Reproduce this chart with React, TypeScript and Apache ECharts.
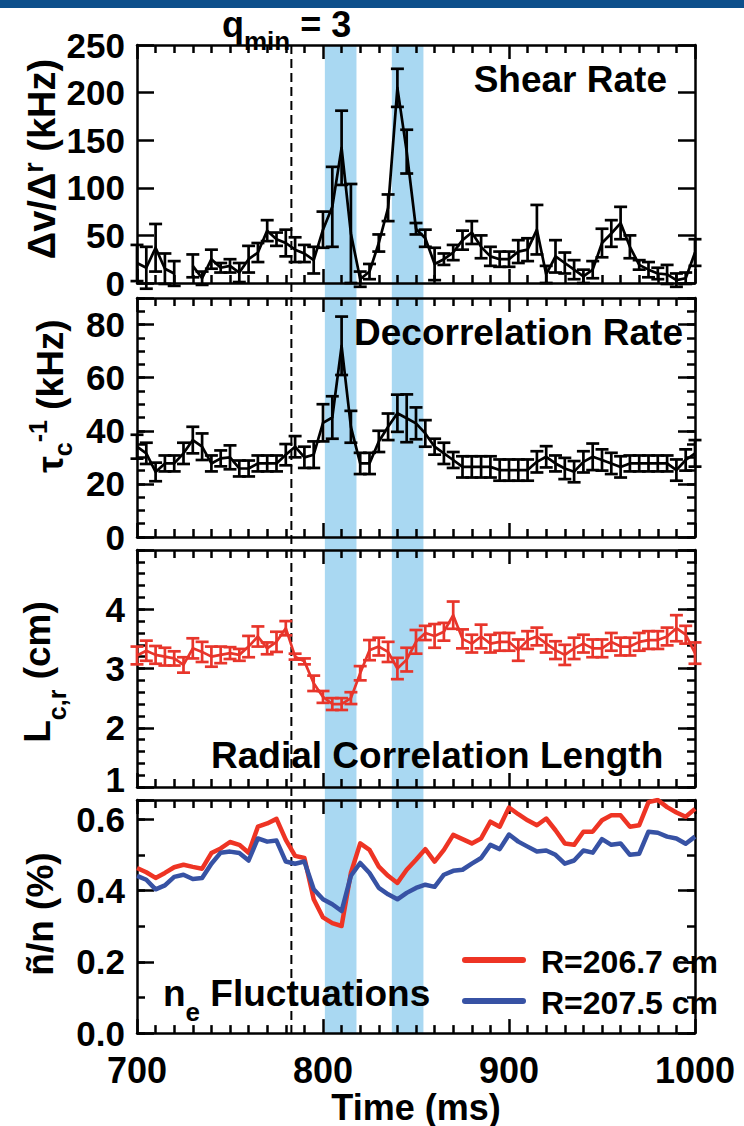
import React, { useEffect, useRef } from "react";
import * as echarts from "echarts";

const FONT = "'Liberation Sans', Arial, Helvetica, sans-serif";

// Sample times (ms)
const TIME_MS = [
  700, 705, 710, 715, 720, 725, 730, 735, 740, 745,
  750, 755, 760, 765, 770, 775, 780, 785, 790, 795,
  800, 805, 810, 815, 820, 825, 830, 835, 840, 845,
  850, 855, 860, 865, 870, 875, 880, 885, 890, 895,
  900, 905, 910, 915, 920, 925, 930, 935, 940, 945,
  950, 955, 960, 965, 970, 975, 980, 985, 990, 995,
  1000,
];

// Shear rate Δv/Δr (kHz) and its uncertainty
const SHEAR_RATE = [
  21, 16, 37, 15, 10, null, 18, 5, 25, 16,
  18, 11, 25, 32, 55, 46, 42, 35, 31, 24,
  56, 80, 142, 52, 4, 12, 42, 79, 205, 138,
  57, 47, 20, 25, 32, 45, 53, 38, 28, 25,
  25, 33, 35, 56, 9, 28, 21, 14, 7, 14,
  42, 52, 63, 38, 19, 14, 10, 9, 3, 5,
  32,
];
const SHEAR_ERR = [
  19, 22, 25, 16, 13, null, 12, 7, 10, 5,
  7, 10, 14, 10, 11, 7, 14, 13, 9, 14,
  19, 42, 39, 52, 8, 8, 9, 14, 20, 23,
  6, 9, 17, 6, 8, 10, 12, 12, 10, 8,
  8, 12, 12, 26, 9, 17, 11, 10, 7, 9,
  15, 14, 17, 12, 5, 8, 6, 10, 7, 6,
  14,
];

// Decorrelation rate τc^-1 (kHz)
const DECOR_RATE = [
  34, 31.5, 24.5, 27.7, 27.7, 31.5, 36.5, 34, 27.7, 29.6,
  30, 25.8, 25.8, 27.7, 27.7, 27.7, 31, 34, 30, 31,
  43, 45, 72, 41.5, 27.7, 27.7, 36, 41.5, 46.6, 44.7,
  42.8, 39, 34, 31.5, 29, 26.4, 26.4, 26.4, 26.4, 25.2,
  25.2, 25.2, 25.2, 28.3, 30.2, 27.7, 25.8, 24.6, 28.3, 30.2,
  29, 27.7, 26.4, 27.7, 27.7, 27.7, 27.7, 27.7, 25.2, 29,
  31.5,
];
const DECOR_ERR = [
  4.5, 4, 3.5, 3, 3, 4, 5, 5, 3, 3,
  4.5, 3, 3, 3, 3, 3, 4, 4, 4, 5,
  7, 8, 11, 6, 4, 4, 4, 5, 7, 9,
  6, 5, 3, 4, 3, 4, 4, 4, 4, 4,
  4, 4, 4, 4, 4, 3, 4, 4, 4, 5,
  4, 4, 4, 3, 3, 3, 3, 3, 4, 4,
  5,
];

// Radial correlation length Lc,r (cm)
const CORR_LEN = [
  3.22, 3.3, 3.23, 3.2, 3.17, 3.06, 3.34, 3.28, 3.2, 3.23,
  3.26, 3.23, 3.37, 3.54, 3.34, 3.45, 3.68, 3.2, 3.12, 2.75,
  2.52, 2.4, 2.4, 2.5, 2.92, 3.31, 3.37, 3.28, 3.0, 3.15,
  3.45, 3.6, 3.55, 3.62, 3.9, 3.5, 3.42, 3.54, 3.42, 3.45,
  3.45, 3.31, 3.48, 3.54, 3.42, 3.31, 3.23, 3.34, 3.42, 3.34,
  3.34, 3.45, 3.37, 3.37, 3.45, 3.48, 3.48, 3.54, 3.68, 3.57,
  3.26,
];
const CORR_LEN_ERR = [
  0.15, 0.17, 0.15, 0.15, 0.12, 0.13, 0.17, 0.17, 0.17, 0.14,
  0.1, 0.1, 0.18, 0.17, 0.1, 0.17, 0.12, 0.05, 0.05, 0.13,
  0.1, 0.1, 0.1, 0.1, 0.12, 0.17, 0.15, 0.17, 0.18, 0.2,
  0.2, 0.12, 0.2, 0.15, 0.23, 0.16, 0.15, 0.2, 0.15, 0.15,
  0.15, 0.18, 0.15, 0.15, 0.15, 0.15, 0.17, 0.18, 0.15, 0.15,
  0.15, 0.15, 0.15, 0.15, 0.15, 0.15, 0.15, 0.15, 0.22, 0.15,
  0.18,
];

// Density fluctuation level ñ/n (%) at two radii
const NE_R2067 = [
  0.464, 0.452, 0.436, 0.45, 0.466, 0.473, 0.467, 0.462, 0.506, 0.519,
  0.537, 0.529, 0.507, 0.58, 0.589, 0.602, 0.543, 0.498, 0.492, 0.376,
  0.325, 0.309, 0.301, 0.45, 0.533, 0.515, 0.468, 0.442, 0.422, 0.459,
  0.487, 0.517, 0.482, 0.515, 0.557, 0.545, 0.533, 0.547, 0.594, 0.58,
  0.634, 0.615, 0.598, 0.584, 0.603, 0.57, 0.533, 0.529, 0.566, 0.566,
  0.598, 0.612, 0.612, 0.58, 0.584, 0.649, 0.655, 0.635, 0.62, 0.608,
  0.63,
];
const NE_R2075 = [
  0.442, 0.431, 0.404, 0.415, 0.439, 0.445, 0.433, 0.436, 0.476, 0.507,
  0.51, 0.506, 0.485, 0.547, 0.538, 0.541, 0.482, 0.476, 0.482, 0.404,
  0.376, 0.362, 0.343, 0.442, 0.478, 0.45, 0.408, 0.39, 0.376, 0.394,
  0.408, 0.417, 0.411, 0.445, 0.456, 0.459, 0.476, 0.492, 0.529, 0.517,
  0.558, 0.538, 0.524, 0.51, 0.513, 0.501, 0.476, 0.485, 0.513, 0.507,
  0.545, 0.529, 0.533, 0.501, 0.504, 0.566, 0.563, 0.552, 0.547, 0.532,
  0.552,
];

// Highlighted time windows (ms) and the q_min = 3 crossing time
const BANDS = [
  [801, 818],
  [837, 854],
];
const QMIN_TIME = 783;

const X_TICKS = { min: 700, max: 1000, major: 100 };

const BLACK = "#000000";
const LC_RED = "#e8352b";
const NE_RED = "#ee3424";
const NE_BLUE = "#3752a4";
const BAND_BLUE = "#a9d8f2";
const HEADER_BLUE = "#0d4f8b";

// Panel frames and their y scales
const PANELS = [
  { top: 45, height: 238, min: 0, max: 250, major: 50, minor: 0, labelMax: 250, digits: 0, raiseMin: false },
  { top: 298, height: 239, min: 0, max: 90, major: 20, minor: 5, labelMax: 80, digits: 0, raiseMin: false },
  { top: 550, height: 237, min: 1, max: 5, major: 1, minor: 0.2, labelMax: 4, digits: 0, raiseMin: true },
  { top: 800, height: 235, min: 0, max: 0.655, major: 0.2, minor: 0.1, labelMax: 0.6, digits: 1, raiseMin: false },
];
const GRID_LEFT = 137;
const GRID_WIDTH = 558;

const AXIS_LINE = { show: true, onZero: false, lineStyle: { color: BLACK, width: 2.5 } };
const TICK_STYLE = { color: BLACK, width: 2.5 };

function bold(size: number, extra: any = {}) {
  return { fontSize: size, fontWeight: "bold", fontFamily: FONT, color: BLACK, ...extra };
}

function lineData(values: (number | null)[]) {
  return TIME_MS.map((t, i) => [t, values[i] == null ? "-" : values[i]]);
}

function errorData(values: (number | null)[], errs: (number | null)[]) {
  const out: number[][] = [];
  TIME_MS.forEach((t, i) => {
    const v = values[i];
    const e = errs[i];
    if (v == null || e == null) return;
    out.push([t, v - e, v + e]);
  });
  return out;
}

function errorSeries(xAxisIndex: number, yAxisIndex: number, data: number[][], color: string) {
  return {
    type: "custom",
    xAxisIndex,
    yAxisIndex,
    data,
    encode: { x: 0, y: [1, 2] },
    silent: true,
    z: 3,
    renderItem: (_params: any, api: any) => {
      const t = api.value(0);
      const lo = api.coord([t, api.value(1)]);
      const hi = api.coord([t, api.value(2)]);
      const w = 6.5;
      const style = { stroke: color, lineWidth: 2.7, fill: null };
      return {
        type: "group",
        children: [
          { type: "line", shape: { x1: lo[0], y1: lo[1], x2: hi[0], y2: hi[1] }, style },
          { type: "line", shape: { x1: lo[0] - w, y1: lo[1], x2: lo[0] + w, y2: lo[1] }, style },
          { type: "line", shape: { x1: hi[0] - w, y1: hi[1], x2: hi[0] + w, y2: hi[1] }, style },
        ],
      };
    },
  };
}

function lineSeries(name: string, xAxisIndex: number, yAxisIndex: number, values: (number | null)[], color: string, width: number) {
  return {
    name,
    type: "line",
    xAxisIndex,
    yAxisIndex,
    data: lineData(values),
    symbol: "none",
    connectNulls: false,
    silent: true,
    z: 4,
    lineStyle: { color, width, join: "round" },
    itemStyle: { color },
  };
}

function buildOption() {
  const grid: any[] = [];
  const xAxis: any[] = [];
  const yAxis: any[] = [];
  const majorY: number[] = [];

  PANELS.forEach((p, i) => {
    const isLast = i === PANELS.length - 1;
    grid.push({ left: GRID_LEFT, width: GRID_WIDTH, top: p.top, height: p.height, containLabel: false });

    const xBase = {
      type: "value",
      gridIndex: i,
      min: X_TICKS.min,
      max: X_TICKS.max,
      interval: X_TICKS.major,
      axisLine: AXIS_LINE,
      axisTick: { show: true, inside: true, length: 14, lineStyle: TICK_STYLE },
      minorTick: { show: true, splitNumber: 10, length: 8, lineStyle: TICK_STYLE },
      splitLine: { show: false },
      minorSplitLine: { show: false },
    };
    xAxis.push({
      ...xBase,
      position: "bottom",
      axisLabel: { show: isLast, margin: 19, formatter: (v: number) => String(v), ...bold(36) },
      name: isLast ? "Time (ms)" : "",
      nameLocation: "middle",
      nameGap: 53,
      nameTextStyle: bold(36),
    });
    xAxis.push({ ...xBase, position: "top", axisLabel: { show: false } });

    const isMin = (v: number) => Math.abs(v - p.min) < 1e-9;
    const fmt = (v: number) => {
      const k = (v - p.min) / p.major;
      if (Math.abs(k - Math.round(k)) > 1e-6 || v > p.labelMax + 1e-9) return "";
      if (p.raiseMin && isMin(v)) return "";
      return v.toFixed(p.digits);
    };
    const yBase = {
      type: "value",
      gridIndex: i,
      min: p.min,
      max: p.max,
      splitLine: { show: false },
    };
    majorY.push(yAxis.length);
    yAxis.push({
      ...yBase,
      position: "left",
      interval: p.major,
      axisLine: AXIS_LINE,
      axisTick: { show: true, inside: true, length: 17, lineStyle: TICK_STYLE },
      axisLabel: { show: true, margin: 12, formatter: fmt, ...bold(35) },
    });
    yAxis.push({
      ...yBase,
      position: "right",
      interval: p.major,
      axisLine: AXIS_LINE,
      axisTick: { show: true, inside: true, length: 17, lineStyle: TICK_STYLE },
      axisLabel: { show: false },
    });
    if (p.minor) {
      for (const pos of ["left", "right"]) {
        const raised = pos === "left" && p.raiseMin;
        yAxis.push({
          ...yBase,
          position: pos,
          interval: p.minor,
          axisLine: { show: false },
          axisTick: { show: true, inside: true, length: 8, lineStyle: TICK_STYLE },
          // the bottom label of this panel sits just above its tick
          axisLabel: raised
            ? {
                show: true,
                margin: 12,
                verticalAlign: "bottom",
                lineHeight: 16,
                formatter: (v: number) => (isMin(v) ? v.toFixed(p.digits) : ""),
                ...bold(35),
              }
            : { show: false },
        });
      }
    }
  });

  const series = [
    errorSeries(0, majorY[0], errorData(SHEAR_RATE, SHEAR_ERR), BLACK),
    lineSeries("Shear Rate", 0, majorY[0], SHEAR_RATE, BLACK, 2.7),
    errorSeries(2, majorY[1], errorData(DECOR_RATE, DECOR_ERR), BLACK),
    lineSeries("Decorrelation Rate", 2, majorY[1], DECOR_RATE, BLACK, 2.7),
    errorSeries(4, majorY[2], errorData(CORR_LEN, CORR_LEN_ERR), LC_RED),
    lineSeries("Radial Correlation Length", 4, majorY[2], CORR_LEN, LC_RED, 2.7),
    lineSeries("R=206.7 cm", 6, majorY[3], NE_R2067, NE_RED, 4.5),
    lineSeries("R=207.5 cm", 6, majorY[3], NE_R2075, NE_BLUE, 4.5),
  ];

  return {
    option: {
      animation: false,
      backgroundColor: "#ffffff",
      textStyle: { fontFamily: FONT },
      grid,
      xAxis,
      yAxis,
      series,
    },
    majorY,
  };
}

function tok(size: number, extra: any = {}) {
  return { fontSize: size, fontWeight: "bold", fontFamily: FONT, fill: BLACK, ...extra };
}

function text(content: string, x: number, y: number, size: number, align: string, opts: any = {}) {
  const { rotate, rich } = opts;
  return {
    type: "text",
    x,
    y,
    rotation: rotate ? Math.PI / 2 : 0,
    z: 100,
    silent: true,
    style: {
      text: content,
      fontSize: size,
      fontWeight: "bold",
      fontFamily: FONT,
      fill: BLACK,
      align,
      verticalAlign: "middle",
      textAlign: align,
      textVerticalAlign: "middle",
      rich,
    },
  };
}

function buildGraphic(chart: any, majorY: number[]) {
  const px = (t: number) => chart.convertToPixel({ xAxisIndex: 0 }, t);
  const top = chart.convertToPixel({ yAxisIndex: majorY[0] }, PANELS[0].max);
  const bottom = chart.convertToPixel({ yAxisIndex: majorY[3] }, PANELS[3].min);
  const els: any[] = [];

  els.push({ type: "rect", shape: { x: 0, y: 0, width: 744, height: 8 }, style: { fill: HEADER_BLUE }, z: 100, silent: true });

  BANDS.forEach(([a, b]) => {
    const x0 = px(a);
    const x1 = px(b);
    els.push({
      type: "rect",
      shape: { x: x0, y: top, width: x1 - x0, height: bottom - top },
      style: { fill: BAND_BLUE },
      z: -1,
      silent: true,
    });
  });

  const qx = px(QMIN_TIME);
  els.push({
    type: "line",
    shape: { x1: qx, y1: top, x2: qx, y2: bottom },
    style: { stroke: BLACK, lineWidth: 2, lineDash: [9, 5] },
    z: 1,
    silent: true,
  });

  // q_min = 3 marker label
  els.push(
    text("{a|q}{s|min}{a| = 3}", 222, 30, 36, "left", {
      rich: {
        a: tok(36, { lineHeight: 48, verticalAlign: "top" }),
        s: tok(26, { lineHeight: 26, verticalAlign: "bottom" }),
      },
    })
  );

  // Panel titles
  els.push(text("Shear Rate", 667, 79, 37, "right"));
  els.push(text("Decorrelation Rate", 683, 332, 37, "right"));
  els.push(text("Radial Correlation Length", 211, 755, 37, "left"));
  els.push(
    text("{a|n}{s|e}{a| Fluctuations}", 163, 1000, 37, "left", {
      rich: {
        a: tok(37, { lineHeight: 50, verticalAlign: "top" }),
        s: tok(26, { lineHeight: 26, verticalAlign: "bottom" }),
      },
    })
  );

  // Y axis titles (rotated)
  els.push(
    text("{a|Δv/Δ}{r|r}{a| (kHz)}", 42, 159, 38, "center", {
      rotate: true,
      rich: {
        a: tok(38, { lineHeight: 44 }),
        r: tok(27, { lineHeight: 27, verticalAlign: "top" }),
      },
    })
  );
  els.push(
    text("{a|τ}{s|c}{p|-1}{a| (kHz)}", 50, 396, 37, "center", {
      rotate: true,
      rich: {
        a: tok(37, { lineHeight: 50 }),
        s: tok(25, { lineHeight: 25, verticalAlign: "bottom" }),
        p: tok(25, { lineHeight: 25, verticalAlign: "top" }),
      },
    })
  );
  els.push(
    text("{a|L}{s|c,r}{a| (cm)}", 44, 672, 37, "center", {
      rotate: true,
      rich: {
        a: tok(37, { lineHeight: 50, verticalAlign: "top" }),
        s: tok(25, { lineHeight: 25, verticalAlign: "bottom" }),
      },
    })
  );
  els.push(text("ñ/n (%)", 40, 914, 37, "center", { rotate: true }));

  // Legend
  const legend = [
    { label: "R=206.7 cm", color: NE_RED, y: 960 },
    { label: "R=207.5 cm", color: NE_BLUE, y: 1001 },
  ];
  legend.forEach((l) => {
    els.push({
      type: "line",
      shape: { x1: 465, y1: l.y, x2: 523, y2: l.y },
      style: { stroke: l.color, lineWidth: 6, lineCap: "round" },
      z: 100,
      silent: true,
    });
    els.push(text(l.label, 541, l.y + 2, 32, "left"));
  });

  return els;
}

export default function App() {
  const ref = useRef<HTMLDivElement>(null);
  useEffect(() => {
    if (!ref.current) return;
    const chart = echarts.init(ref.current, undefined, { renderer: "svg" });
    const { option, majorY } = buildOption();
    chart.setOption(option as any);
    chart.setOption({ graphic: { elements: buildGraphic(chart, majorY) } } as any);
    return () => chart.dispose();
  }, []);
  return (
    <div
      ref={ref}
      style={{ position: "fixed", left: 0, top: 0, width: 744, height: 1126, background: "#ffffff" }}
    />
  );
}
